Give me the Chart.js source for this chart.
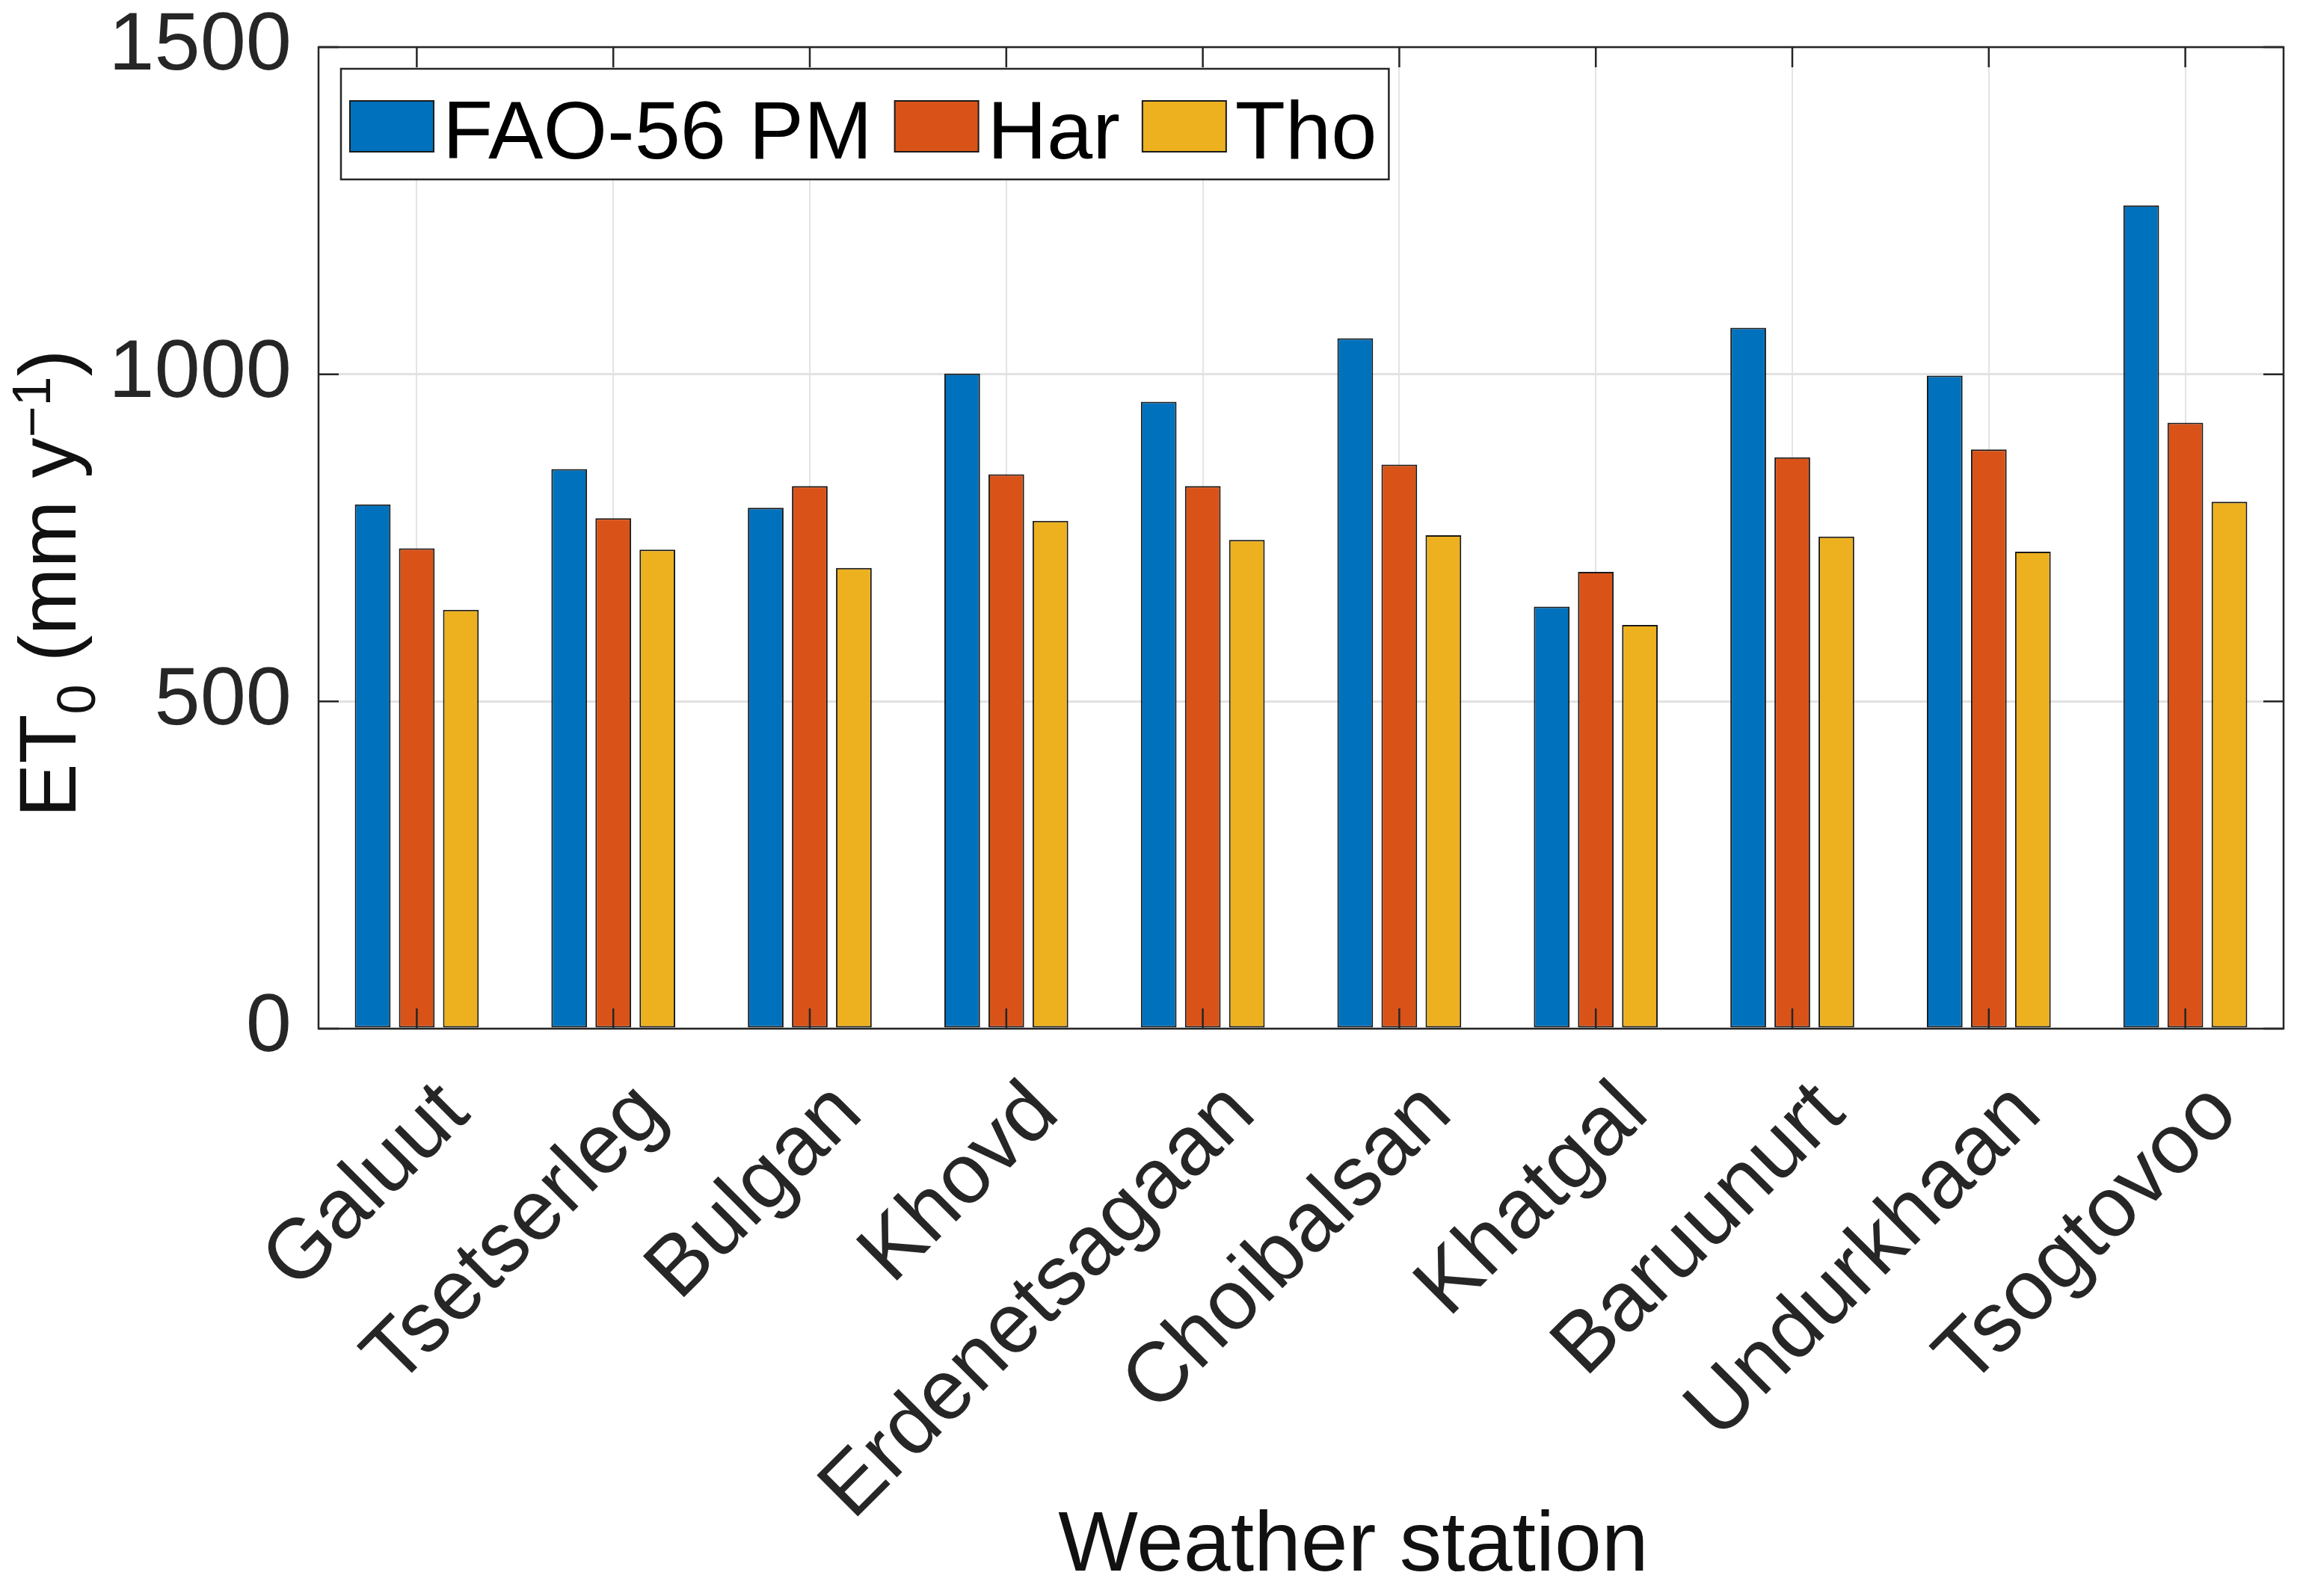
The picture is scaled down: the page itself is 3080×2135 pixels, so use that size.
<!DOCTYPE html>
<html>
<head>
<meta charset="utf-8">
<script src="https://cdn.jsdelivr.net/npm/chart.js@4/dist/chart.umd.min.js"></script>
<style>
  html, body { margin: 0; padding: 0; background: #fff; }
  #wrap { width: 3080px; height: 2135px; }
</style>
</head>
<body>
<div id="wrap"><canvas id="chart" width="3080" height="2135"></canvas></div>
<script>
const stations = ["Galuut", "Tsetserleg", "Bulgan", "Khovd", "Erdenetsagaan",
  "Choibalsan", "Khatgal", "Baruunurt", "Undurkhaan", "Tsogtovoo"]
const seriesNames = ["FAO-56 PM", "Har", "Tho"]
const fao56 = [801, 855, 796, 1001, 958, 1055, 645, 1071, 998, 1258]
const har = [734, 780, 829, 847, 829, 862, 698, 873, 885, 926]
const tho = [640, 732, 704, 776, 747, 754, 617, 752, 729, 805]
const yTicks = [0, 500, 1000, 1500]
const colors = ["#0072BD", "#D95319", "#EDB120"]
const xTitle = "Weather station"

const FONT = "'Liberation Sans', Arial, Helvetica, sans-serif"
const INK = "#262626"

// axes box + MATLAB style inner tick marks
const frame = {
  id: "frame",
  afterDatasetsDraw(chart) {
    const ctx = chart.ctx
    const a = chart.chartArea
    const x = chart.scales.x, y = chart.scales.y
    const tl = 27
    ctx.save()
    ctx.strokeStyle = INK
    ctx.lineWidth = 2.5
    ctx.beginPath()
    yTicks.forEach(v => {
      const py = y.getPixelForValue(v)
      ctx.moveTo(a.left, py); ctx.lineTo(a.left + tl, py)
      ctx.moveTo(a.right, py); ctx.lineTo(a.right - tl, py)
    })
    stations.forEach((s, i) => {
      const px = x.getPixelForValue(i)
      ctx.moveTo(px, a.bottom); ctx.lineTo(px, a.bottom - tl)
      ctx.moveTo(px, a.top); ctx.lineTo(px, a.top + tl)
    })
    ctx.stroke()
    ctx.strokeRect(a.left, a.top, a.right - a.left, a.bottom - a.top)
    ctx.restore()
  }
}

// boxed legend in the top-left corner of the axes
const legendBox = {
  id: "legendBox",
  afterDraw(chart) {
    const ctx = chart.ctx
    const a = chart.chartArea
    const sw = 112, sh = 68, gapText = 12, gapItem = 30, padL = 12, padR = 16
    ctx.save()
    ctx.font = `110px ${FONT}`
    const sets = chart.data.datasets
    let w = padL
    sets.forEach((d, i) => {
      w += sw + gapText + ctx.measureText(d.label).width + (i < sets.length - 1 ? gapItem : padR)
    })
    const x0 = a.left + 30, y0 = a.top + 29, h = 148
    ctx.fillStyle = "#fff"
    ctx.fillRect(x0, y0, w, h)
    ctx.strokeStyle = INK
    ctx.lineWidth = 2.5
    ctx.strokeRect(x0, y0, w, h)
    let x = x0 + padL
    const cy = y0 + h / 2 + 3
    sets.forEach(d => {
      ctx.fillStyle = d.backgroundColor
      ctx.fillRect(x, cy - sh / 2, sw, sh)
      ctx.strokeStyle = "#1a1a1a"
      ctx.lineWidth = 2
      ctx.strokeRect(x, cy - sh / 2, sw, sh)
      x += sw + gapText
      ctx.fillStyle = "#000"
      ctx.textAlign = "left"
      ctx.textBaseline = "alphabetic"
      ctx.fillText(d.label, x, y0 + 120)
      x += ctx.measureText(d.label).width + gapItem
    })
    ctx.restore()
  }
}

// axis titles; the y one has a subscript and a superscript
const axisTitles = {
  id: "axisTitles",
  afterDraw(chart) {
    const ctx = chart.ctx
    const a = chart.chartArea
    const big = `108px ${FONT}`, small = `72px ${FONT}`
    const parts = [
      ["ET", big, 0], ["0", small, 26], [" (mm y", big, 0], ["\u22121", small, -34], [")", big, 0]
    ]
    ctx.save()
    ctx.fillStyle = "#111"
    ctx.textBaseline = "alphabetic"

    ctx.font = `113px ${FONT}`
    ctx.textAlign = "center"
    ctx.fillText(xTitle, (a.left + a.right) / 2 + 70, 2101)

    ctx.textAlign = "left"
    let total = 0
    parts.forEach(p => { ctx.font = p[1]; total += ctx.measureText(p[0]).width })
    ctx.translate(101, (a.top + a.bottom) / 2 + 61)
    ctx.rotate(-Math.PI / 2)
    let x = -total / 2
    parts.forEach(p => {
      ctx.font = p[1]
      ctx.fillText(p[0], x, p[2])
      x += ctx.measureText(p[0]).width
    })
    ctx.restore()
  }
}

const barSet = (label, data, color) => ({
  label,
  data,
  backgroundColor: color,
  borderColor: "#1a1a1a",
  borderWidth: 2,
  borderSkipped: false,
  barPercentage: 0.81,
  categoryPercentage: 0.673
})

new Chart(document.getElementById("chart"), {
  type: "bar",
  data: {
    labels: stations,
    datasets: [
      barSet(seriesNames[0], fao56, colors[0]),
      barSet(seriesNames[1], har, colors[1]),
      barSet(seriesNames[2], tho, colors[2])
    ]
  },
  options: {
    responsive: false,
    devicePixelRatio: 1,
    animation: false,
    layout: { padding: { top: 63, right: 26, bottom: 0, left: 0 } },
    plugins: {
      legend: { display: false },
      tooltip: { enabled: false }
    },
    scales: {
      x: {
        afterFit: s => {
          s.height = 759
          s.paddingLeft = 0
          s.paddingRight = 0
        },
        grid: { offset: false, color: "#e4e4e4", lineWidth: 2, drawTicks: false },
        border: { display: false },
        ticks: {
          font: { family: FONT, size: 113 },
          color: INK,
          maxRotation: 45,
          minRotation: 45,
          autoSkip: false,
          padding: 47,
          labelOffset: 52
        }
      },
      y: {
        min: 0,
        max: 1500,
        afterFit: s => {
          s.width = 426
          s.paddingTop = 0
          s.paddingBottom = 0
        },
        afterBuildTicks: s => { s.ticks = yTicks.map(v => ({ value: v })) },
        grid: { color: "#e2e2e2", lineWidth: 3, drawTicks: false },
        border: { display: false },
        ticks: {
          font: { family: FONT, size: 110 },
          color: INK,
          padding: 36,
          callback: v => String(v)
        }
      }
    }
  },
  plugins: [frame, legendBox, axisTitles]
})
</script>
</body>
</html>
